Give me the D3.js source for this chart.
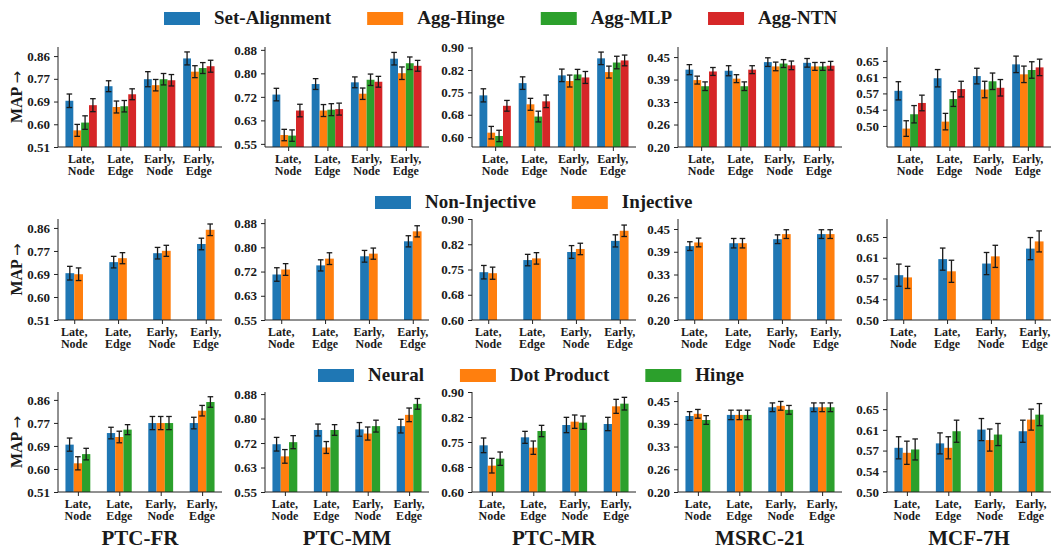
<!DOCTYPE html>
<html>
<head>
<meta charset="utf-8">
<script src="https://cdn.jsdelivr.net/npm/d3@7"></script>
<style>
  body { margin: 0; background: #fff; }
  text { font-family: "Liberation Serif", "Times New Roman", serif; font-weight: bold; fill: #1a1a1a; }
</style>
</head>
<body>
<svg id="chart" width="1051" height="550"></svg>
<script>
// MAP per dataset / readout, three ablation rows
const datasets = ["PTC-FR", "PTC-MM", "PTC-MR", "MSRC-21", "MCF-7H"];
const groupLabels = [["Late,", "Node"], ["Late,", "Edge"], ["Early,", "Node"], ["Early,", "Edge"]];
const colors = ["#1f77b4", "#ff7f0e", "#2ca02c", "#d62728"];

// y ticks (same for every row) and their printed labels
const yTicks = [
  [0.51, 0.5975, 0.685, 0.7725, 0.86],
  [0.55, 0.6325, 0.715, 0.7975, 0.88],
  [0.60, 0.675, 0.75, 0.825, 0.90],
  [0.20, 0.2625, 0.325, 0.3875, 0.45],
  [0.50, 0.5375, 0.575, 0.6125, 0.65]
];
const yTickLabels = [
  ["0.51", "0.60", "0.69", "0.77", "0.86"],
  ["0.55", "0.63", "0.72", "0.80", "0.88"],
  ["0.60", "0.68", "0.75", "0.82", "0.90"],
  ["0.20", "0.26", "0.33", "0.39", "0.45"],
  ["0.50", "0.54", "0.57", "0.61", "0.65"]
];

// row 1: aggregation
const aggSeries = ["Set-Alignment", "Agg-Hinge", "Agg-MLP", "Agg-NTN"];
const aggDomain = [[0.51, 0.895], [0.539, 0.89], [0.567, 0.902], [0.20, 0.478], [0.4515, 0.682]];
const aggMean = [
  [[0.688, 0.744, 0.771, 0.851], [0.574, 0.664, 0.748, 0.800], [0.604, 0.667, 0.771, 0.814], [0.671, 0.713, 0.767, 0.821]],
  [[0.723, 0.760, 0.766, 0.849], [0.581, 0.667, 0.726, 0.798], [0.579, 0.670, 0.775, 0.833], [0.667, 0.672, 0.768, 0.824]],
  [[0.740, 0.781, 0.807, 0.864], [0.615, 0.710, 0.788, 0.818], [0.604, 0.669, 0.810, 0.850], [0.705, 0.720, 0.800, 0.857]],
  [[0.415, 0.412, 0.436, 0.434], [0.386, 0.390, 0.424, 0.424], [0.369, 0.369, 0.432, 0.424], [0.410, 0.415, 0.427, 0.426]],
  [[0.581, 0.610, 0.615, 0.642], [0.494, 0.510, 0.584, 0.619], [0.527, 0.562, 0.603, 0.629], [0.553, 0.585, 0.588, 0.635]]
];
const aggErr = [
  [[0.026, 0.021, 0.029, 0.025], [0.023, 0.023, 0.022, 0.023], [0.026, 0.022, 0.022, 0.021], [0.025, 0.021, 0.022, 0.023]],
  [[0.022, 0.019, 0.019, 0.022], [0.020, 0.021, 0.020, 0.022], [0.020, 0.021, 0.020, 0.022], [0.022, 0.021, 0.019, 0.019]],
  [[0.022, 0.021, 0.021, 0.021], [0.021, 0.020, 0.020, 0.020], [0.019, 0.018, 0.017, 0.021], [0.018, 0.021, 0.020, 0.018]],
  [[0.014, 0.014, 0.012, 0.012], [0.011, 0.011, 0.012, 0.011], [0.012, 0.012, 0.011, 0.011], [0.011, 0.011, 0.012, 0.012]],
  [[0.021, 0.020, 0.018, 0.019], [0.018, 0.019, 0.019, 0.019], [0.020, 0.017, 0.019, 0.019], [0.018, 0.018, 0.019, 0.019]]
];

// row 2: injectivity
const injSeries = ["Non-Injective", "Injective"];
const injDomain = [[0.51, 0.894], [0.55, 0.894], [0.60, 0.90], [0.20, 0.4775], [0.50, 0.6825]];
const injMean = [
  [[0.688, 0.730, 0.764, 0.799], [0.684, 0.745, 0.773, 0.853]],
  [[0.705, 0.736, 0.767, 0.818], [0.722, 0.759, 0.776, 0.852]],
  [[0.742, 0.778, 0.802, 0.835], [0.739, 0.783, 0.811, 0.865]],
  [[0.403, 0.411, 0.422, 0.436], [0.413, 0.411, 0.436, 0.436]],
  [[0.581, 0.610, 0.602, 0.629], [0.577, 0.588, 0.615, 0.642]]
];
const injErr = [
  [[0.026, 0.022, 0.022, 0.022], [0.024, 0.021, 0.021, 0.022]],
  [[0.023, 0.019, 0.020, 0.019], [0.020, 0.020, 0.019, 0.019]],
  [[0.020, 0.017, 0.019, 0.018], [0.018, 0.017, 0.017, 0.017]],
  [[0.012, 0.013, 0.012, 0.012], [0.012, 0.013, 0.012, 0.012]],
  [[0.020, 0.020, 0.020, 0.020], [0.020, 0.020, 0.020, 0.019]]
];

// row 3: scoring function
const scoreSeries = ["Neural", "Dot Product", "Hinge"];
const scoreDomain = [[0.51, 0.89], [0.55, 0.887], [0.60, 0.90], [0.20, 0.475], [0.50, 0.681]];
const scoreMean = [
  [[0.690, 0.734, 0.772, 0.772], [0.619, 0.719, 0.772, 0.819], [0.654, 0.747, 0.772, 0.852]],
  [[0.711, 0.759, 0.761, 0.772], [0.670, 0.700, 0.747, 0.810], [0.718, 0.759, 0.772, 0.847]],
  [[0.740, 0.764, 0.801, 0.804], [0.679, 0.733, 0.811, 0.857], [0.700, 0.783, 0.808, 0.865]],
  [[0.409, 0.412, 0.433, 0.433], [0.415, 0.412, 0.437, 0.433], [0.398, 0.412, 0.426, 0.433]],
  [[0.580, 0.588, 0.613, 0.610], [0.571, 0.580, 0.594, 0.631], [0.577, 0.610, 0.604, 0.640]]
];
const scoreErr = [
  [[0.025, 0.022, 0.025, 0.022], [0.025, 0.022, 0.025, 0.020], [0.022, 0.019, 0.025, 0.020]],
  [[0.023, 0.020, 0.023, 0.023], [0.023, 0.020, 0.022, 0.023], [0.022, 0.018, 0.020, 0.018]],
  [[0.022, 0.018, 0.023, 0.020], [0.022, 0.020, 0.020, 0.021], [0.020, 0.017, 0.020, 0.019]],
  [[0.012, 0.013, 0.012, 0.012], [0.012, 0.013, 0.012, 0.012], [0.012, 0.013, 0.012, 0.012]],
  [[0.020, 0.019, 0.020, 0.020], [0.021, 0.020, 0.020, 0.019], [0.019, 0.020, 0.020, 0.020]]
];

// layout
const panelLeft = [58, 265, 472, 678, 887];
const panelW = 164;
const barW = 0.2;

const rows = [
  { series: aggSeries, domain: aggDomain, mean: aggMean, err: aggErr, top: 47, bottom: 147, legendX: 164, legendY: 12 },
  { series: injSeries, domain: injDomain, mean: injMean, err: injErr, top: 219, bottom: 320, legendX: 375, legendY: 196 },
  { series: scoreSeries, domain: scoreDomain, mean: scoreMean, err: scoreErr, top: 392, bottom: 492, legendX: 318, legendY: 369 }
];

const svg = d3.select("#chart");

rows.forEach((row, ri) => {
  const n = row.series.length;
  const half = n * barW / 2;
  const pad = 0.05 * (3 + 2 * half);
  const x = d3.scaleLinear().domain([-half - pad, 3 + half + pad]);

  datasets.forEach((name, di) => {
    const left = panelLeft[di];
    x.range([left, left + panelW]);
    const y = d3.scaleLinear().domain(row.domain[di]).range([row.bottom, row.top]);
    const g = svg.append("g");

    // bars + error bars
    row.series.forEach((s, si) => {
      const off = (si - (n - 1) / 2) * barW;
      const vals = row.mean[di][si];
      const errs = row.err[di][si];
      g.selectAll(null).data(vals).enter().append("rect")
        .attr("x", (v, gi) => x(gi + off - barW / 2))
        .attr("width", x(barW) - x(0))
        .attr("y", v => y(v))
        .attr("height", v => row.bottom - y(v))
        .attr("fill", colors[si]);

      const eb = g.selectAll(null).data(vals).enter().append("g")
        .attr("stroke", "#1a1a1a").attr("stroke-width", 1.3);
      eb.append("line")
        .attr("x1", (v, gi) => x(gi + off)).attr("x2", (v, gi) => x(gi + off))
        .attr("y1", (v, gi) => y(v - errs[gi])).attr("y2", (v, gi) => y(v + errs[gi]));
      [-1, 1].forEach(sign => {
        eb.append("line")
          .attr("x1", (v, gi) => x(gi + off) - 2.8).attr("x2", (v, gi) => x(gi + off) + 2.8)
          .attr("y1", (v, gi) => y(v + sign * errs[gi])).attr("y2", (v, gi) => y(v + sign * errs[gi]));
      });
    });

    // y axis
    const yAxis = d3.axisLeft(y).tickValues(yTicks[di])
      .tickFormat((d, i) => yTickLabels[di][i]).tickSize(4).tickPadding(4);
    const ya = g.append("g").attr("transform", `translate(${left},0)`).call(yAxis);
    ya.select(".domain").attr("d", `M0,${row.top}V${row.bottom}`);
    ya.selectAll("text").style("font-size", "13px");

    // x axis
    const xAxis = d3.axisBottom(x).tickValues([0, 1, 2, 3]).tickFormat("").tickSize(4);
    const xa = g.append("g").attr("transform", `translate(0,${row.bottom})`).call(xAxis);
    xa.select(".domain").attr("d", `M${left},0H${left + panelW}`);
    [ya, xa].forEach(a => {
      a.selectAll(".domain").attr("stroke", "#222").attr("stroke-width", 1);
      a.selectAll(".tick line").attr("stroke", "#222");
    });

    const lbl = g.selectAll(null).data(groupLabels).enter().append("text")
      .attr("text-anchor", "middle")
      .attr("transform", (d, gi) => `translate(${x(gi)},${row.bottom + 15.5})`)
      .style("font-size", "12px");
    lbl.append("tspan").attr("x", 0).attr("y", 0).text(d => d[0]);
    lbl.append("tspan").attr("x", 0).attr("y", 12.5).text(d => d[1]);

    if (di === 0) {
      const yl = g.append("text")
        .attr("transform", `translate(22,${(row.top + row.bottom) / 2}) rotate(-90)`)
        .attr("text-anchor", "middle")
        .style("font-size", "16px");
      yl.append("tspan").text("MAP ");
      yl.append("tspan").style("font-family", "'DejaVu Sans'").style("font-weight", "normal")
        .style("font-size", "15px").text("\u2192");
    }
    if (ri === rows.length - 1) {
      g.append("text")
        .attr("x", left + panelW / 2).attr("y", 545)
        .attr("text-anchor", "middle")
        .style("font-size", "21px")
        .text(name);
    }
  });

  // legend
  const leg = svg.append("g");
  let lx = row.legendX;
  row.series.forEach((s, si) => {
    leg.append("rect").attr("x", lx).attr("y", row.legendY)
      .attr("width", 36).attr("height", 13).attr("fill", colors[si]);
    const t = leg.append("text").attr("x", lx + 50).attr("y", row.legendY + 12)
      .style("font-size", "19px").text(s);
    lx += 50 + t.node().getComputedTextLength() + 36;
  });
});
</script>
</body>
</html>
